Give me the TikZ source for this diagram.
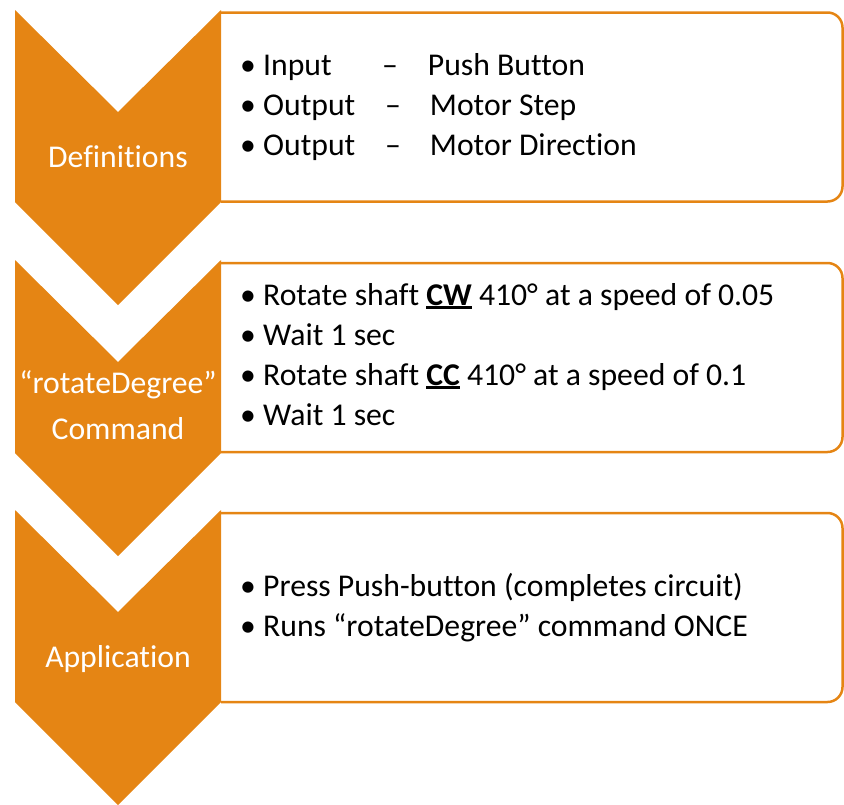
\documentclass[tikz,border=0pt]{standalone}
\usepackage{fontspec}
\setmainfont{Carlito}[Ligatures=CommonOff]
\definecolor{smartorange}{RGB}{229,133,20}
\newcommand{\bul}{\makebox[23pt][l]{\textbullet}}
\newcommand{\ulbold}[1]{\setbox0\hbox{\textbf{#1}}\rlap{\rule[-4pt]{\wd0}{2.6pt}}\box0\relax}

\begin{document}
\begin{tikzpicture}[x=1pt, y=-1pt,
		chevron/.style={fill=smartorange},
		panel/.style={draw=smartorange, line width=2.5pt, rounded corners=15pt},
		title/.style={anchor=base, inner sep=0, text=white, font=\fontsize{31.7}{40}\selectfont},
		item/.style={anchor=base west, inner sep=0, font=\fontsize{31.7}{40}\selectfont}]
	\useasboundingbox (0,0) rectangle (844,804);

	% panels first, the chevrons cover their left ends
	\draw[panel] (221,12.5) -- (842.5,12.5) -- (842.5,201.5) -- (221,201.5);
	\draw[panel] (221,263) -- (842.5,263) -- (842.5,452) -- (221,452);
	\draw[panel] (221,513) -- (842.5,513) -- (842.5,702) -- (221,702);

	\fill[chevron] (15,10) -- (118,112) -- (221,10) -- (221,202) -- (118,305) -- (15,202) -- cycle;
	\fill[chevron] (15,260) -- (118,362) -- (221,260) -- (221,453) -- (118,556) -- (15,453) -- cycle;
	\fill[chevron] (15,510) -- (118,612) -- (221,510) -- (221,702) -- (118,805) -- (15,702) -- cycle;

	\node[title] (defs) at (118,167) {Definitions};
	\node[title] (cmd) at (118,393) {“rotateDegree”};
	\node[title] (cmd2) at (118,439) {Command};
	\node[title] (app) at (118,667) {Application};

	\node[item] (in) at (240,75) {\bul\makebox[119pt][l]{Input}–\hspace{30pt}Push Button};
	\node[item] (out1) at (240,115) {\bul\makebox[122pt][l]{Output}–\hspace{29pt}Motor Step};
	\node[item] (out2) at (240,155) {\bul\makebox[122pt][l]{Output}–\hspace{29pt}Motor Direction};

	\node[item] (cw) at (240,305) {\bul Rotate shaft \ulbold{CW} 410° at a speed of 0.05};
	\node[item] (wait1) at (240,345) {\bul Wait 1 sec};
	\node[item] (cc) at (240,385) {\bul Rotate shaft \ulbold{CC} 410° at a speed of 0.1};
	\node[item] (wait2) at (240,425) {\bul Wait 1 sec};

	\node[item] (press) at (240,596) {\bul Press Push-button (completes circuit)};
	\node[item] (runs) at (240,636) {\bul Runs “rotateDegree” command ONCE};
\end{tikzpicture}
\end{document}
